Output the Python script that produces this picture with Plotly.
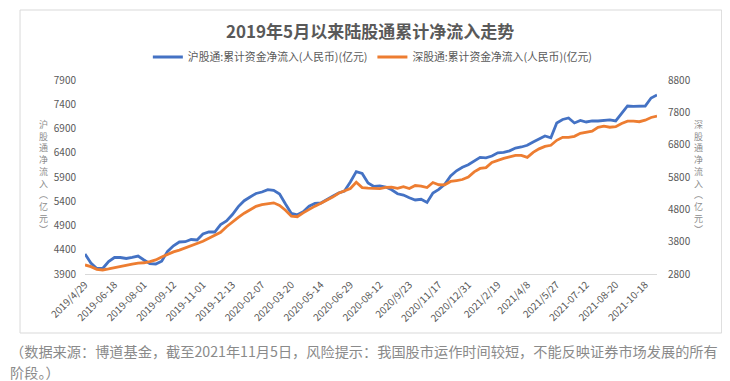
import plotly.graph_objects as go

# ---------------- data ----------------
tick_labels = ["2019/4/29", "2019-06-18", "2019-08-01", "2019-09-12", "2019-11-01",
               "2019-12-13", "2020-02-07", "2020-03-20", "2020-05-14", "2020-06-29",
               "2020-08-12", "2020/9/23", "2020/11/17", "2020/12/31", "2021/2/19",
               "2021/4/8", "2021/5/27", "2021-07-12", "2021-08-20", "2021-10-18"]

# 沪股通 cumulative net inflow (left axis, 亿元)
sh_values = [4312, 4127, 4013, 4013, 4158, 4240, 4240, 4220, 4244, 4271,
             4189, 4114, 4106, 4164, 4366, 4481, 4560, 4566, 4611, 4601,
             4725, 4766, 4766, 4919, 4993, 5127, 5290, 5411, 5488, 5560,
             5591, 5640, 5624, 5550, 5343, 5148, 5121, 5185, 5298, 5356,
             5364, 5426, 5504, 5570, 5611, 5797, 6011, 5972, 5776, 5704,
             5715, 5694, 5636, 5554, 5527, 5471, 5426, 5440, 5374, 5570,
             5644, 5750, 5921, 6028, 6102, 6152, 6238, 6306, 6296, 6333,
             6399, 6407, 6440, 6498, 6519, 6554, 6622, 6684, 6746, 6708,
             7014, 7086, 7117, 7014, 7065, 7034, 7055, 7055, 7065, 7076,
             7055, 7210, 7364, 7358, 7354, 7364, 7529, 7591]

# 深股通 cumulative net inflow (right axis, 亿元)
sz_values = [3080, 3027, 2943, 2924, 2955, 2996, 3033, 3070, 3105, 3136,
             3148, 3186, 3235, 3325, 3416, 3484, 3540, 3611, 3683, 3736,
             3810, 3904, 3994, 4090, 4261, 4417, 4553, 4681, 4793, 4892,
             4945, 4976, 5001, 4923, 4771, 4588, 4572, 4690, 4802, 4899,
             4986, 5070, 5178, 5297, 5374, 5446, 5639, 5474, 5458, 5458,
             5443, 5480, 5489, 5449, 5499, 5443, 5536, 5520, 5474, 5629,
             5561, 5558, 5663, 5691, 5722, 5800, 5959, 6064, 6092, 6251,
             6326, 6378, 6422, 6469, 6469, 6406, 6562, 6671, 6748, 6780,
             6935, 7028, 7028, 7059, 7153, 7184, 7215, 7333, 7370, 7339,
             7358, 7457, 7526, 7526, 7510, 7557, 7641, 7681]

left_ticks = [3900, 4400, 4900, 5400, 5900, 6400, 6900, 7400, 7900]
right_ticks = [2800, 3800, 4800, 5800, 6800, 7800, 8800]

sh_name = "沪股通:累计资金净流入(人民币)(亿元)"
sz_name = "深股通:累计资金净流入(人民币)(亿元)"
title_text = "2019年5月以来陆股通累计净流入走势"
left_title = "沪股通净流入︵亿元︶"
right_title = "深股通净流入︵亿元︶"
caption1 = "（数据来源：博道基金，截至2021年11月5日，风险提示：我国股市运作时间较短，不能反映证券市场发展的所有"
caption2 = "阶段。）"

# ---------------- figure ----------------
x_idx = list(range(len(sh_values)))
label_pos = x_idx[::5][:len(tick_labels)]

FONT = "Noto Sans CJK SC"
OFF = 8                      # page body margin offset
W, H = 730 - OFF, 381 - OFF
ML, MT = 85 - OFF, 80 - OFF
MR = W - (657.3 - OFF)
MB = H - (274 - OFF)
pw = W - ML - MR
ph = H - MT - MB

def px(xs):
    return (xs - OFF - ML) / pw

def py(ys):
    return (H - MB - (ys - OFF)) / ph

fig = go.Figure()
fig.add_trace(go.Scatter(x=x_idx, y=sh_values, mode="lines", name=sh_name,
                         line=dict(color="#4472C4", width=2.8), yaxis="y"))
fig.add_trace(go.Scatter(x=x_idx, y=sz_values, mode="lines", name=sz_name,
                         line=dict(color="#ED7D31", width=2.8), yaxis="y2"))

annotations = [
    dict(text="<b>" + title_text + "</b>", x=px(370), y=py(30), xref="paper", yref="paper",
         showarrow=False, font=dict(family=FONT, size=17, color="#595959"),
         xanchor="center", yanchor="middle"),
    dict(text=caption1, x=px(8), y=py(351), xref="paper", yref="paper",
         showarrow=False, font=dict(family=FONT, size=14.2, color="#8a8a8a"),
         xanchor="left", yanchor="middle"),
    dict(text=caption2, x=px(8), y=py(372), xref="paper", yref="paper",
         showarrow=False, font=dict(family=FONT, size=14.2, color="#8a8a8a"),
         xanchor="left", yanchor="middle"),
    dict(text="<br>".join(left_title), x=px(43), y=py(177), xref="paper", yref="paper",
         showarrow=False, font=dict(family=FONT, size=9, color="#8c8c8c"),
         xanchor="center", yanchor="middle", align="center"),
    dict(text="<br>".join(right_title), x=px(699), y=py(177), xref="paper", yref="paper",
         showarrow=False, font=dict(family=FONT, size=9, color="#8c8c8c"),
         xanchor="center", yanchor="middle", align="center"),
]

fig.update_layout(
    width=W, height=H,
    margin=dict(l=ML, r=MR, t=MT, b=MB, pad=0),
    paper_bgcolor="white", plot_bgcolor="white",
    font=dict(family=FONT, size=10, color="#595959"),
    showlegend=True,
    legend=dict(orientation="h", x=px(373), xanchor="center", y=py(57), yanchor="middle",
                font=dict(family=FONT, size=10.8, color="#595959"),
                bgcolor="rgba(0,0,0,0)", itemwidth=30),
    xaxis=dict(range=[0, len(x_idx) - 1], tickmode="array", tickvals=label_pos,
               ticktext=tick_labels, tickangle=-45, showgrid=False, zeroline=False,
               showline=True, linecolor="#d9d9d9", linewidth=1, ticks="",
               tickfont=dict(family=FONT, size=10, color="#595959")),
    yaxis=dict(range=[left_ticks[0], left_ticks[-1]], tickmode="array", tickvals=left_ticks,
               showgrid=False, zeroline=False, showline=False, ticks="",
               ticklabelstandoff=8,
               tickfont=dict(family=FONT, size=10, color="#595959")),
    yaxis2=dict(range=[right_ticks[0], right_ticks[-1]], tickmode="array", tickvals=right_ticks,
                overlaying="y", side="right", showgrid=False, zeroline=False, showline=False,
                ticks="", ticklabelstandoff=10,
                tickfont=dict(family=FONT, size=10, color="#595959")),
    annotations=annotations,
    shapes=[dict(type="rect", xref="paper", yref="paper",
                 x0=px(20), x1=px(722), y0=py(333), y1=py(10),
                 line=dict(color="#d9d9d9", width=1), fillcolor="rgba(0,0,0,0)", layer="below")],
)

fig.write_html("out.html")
